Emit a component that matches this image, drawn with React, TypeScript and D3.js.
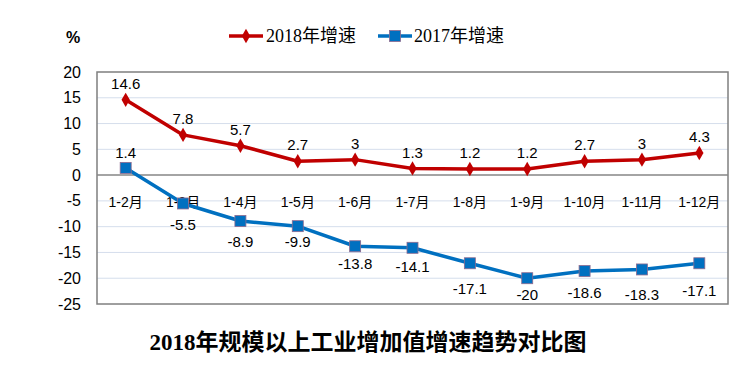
import React from "react";
import * as d3 from "d3";

const categories = ["1-2月", "1-3月", "1-4月", "1-5月", "1-6月", "1-7月", "1-8月", "1-9月", "1-10月", "1-11月", "1-12月"];
const series2018 = [14.6, 7.8, 5.7, 2.7, 3, 1.3, 1.2, 1.2, 2.7, 3, 4.3];
const series2017 = [1.4, -5.5, -8.9, -9.9, -13.8, -14.1, -17.1, -20, -18.6, -18.3, -17.1];
const yTicks = [20, 15, 10, 5, 0, -5, -10, -15, -20, -25];
const label2018 = "2018年增速";
const label2017 = "2017年增速";
const title = "2018年规模以上工业增加值增速趋势对比图";
// label offsets (style), below/above the markers
const labelDy2017 = [-15, 21, 21, 16, 17, 19, 25, 17, 22, 25, 27];

const W = 750, H = 380;
const plot = { left: 97, right: 728, top: 72, bottom: 304 };
const RED = "#C00000";
const BLUE = "#0070C0";
const SANS = "'Liberation Sans', Arial, 'Noto Sans CJK SC', sans-serif";
const SERIF = "'Liberation Serif', 'Noto Sans CJK SC', serif";

export default function App() {
  const x = d3.scaleBand<string>().domain(categories).range([plot.left, plot.right]);
  const y = d3.scaleLinear().domain([-25, 20]).range([plot.bottom, plot.top]);
  const cx = (i: number) => (x(categories[i]) as number) + x.bandwidth() / 2;
  const line = d3.line<number>().x((_, i) => cx(i)).y((d) => y(d));
  const diamond = d3.symbol().type(d3.symbolDiamond).size(60)();
  return (
    <svg width={W} height={H} style={{ position: "absolute", left: 0, top: 0, background: "#fff" }}>
      <rect width={W} height={H} fill="#fff" />
      {/* gridlines */}
      {yTicks.filter((t) => t !== 0 && t !== 20 && t !== -25).map((t) => (
        <line key={t} x1={plot.left} x2={plot.right} y1={y(t)} y2={y(t)} stroke="#D5DEEC" strokeWidth={1} />
      ))}
      {/* plot border */}
      <rect x={plot.left} y={plot.top} width={plot.right - plot.left} height={plot.bottom - plot.top} fill="none" stroke="#7F7F7F" strokeWidth={1.5} />
      {/* zero line */}
      <line x1={plot.left} x2={plot.right} y1={y(0)} y2={y(0)} stroke="#868686" strokeWidth={1.5} />
      {/* y tick labels */}
      {yTicks.map((t) => (
        <text key={t} x={81} y={y(t)} dy="0.35em" textAnchor="end" fontFamily={SANS} fontSize={16} fill="#000">{t}</text>
      ))}
      <text x={73} y={37} dy="0.35em" textAnchor="middle" fontFamily={SANS} fontSize={16} fontWeight="bold">%</text>
      {/* x category labels */}
      {categories.map((c, i) => (
        <text key={c} x={cx(i)} y={202} dy="0.35em" textAnchor="middle" fontFamily={SANS} fontSize={14} fill="#000">{c}</text>
      ))}
      {/* 2017 series */}
      <path d={line(series2017) || ""} fill="none" stroke={BLUE} strokeWidth={3.5} strokeLinejoin="round" />
      {series2017.map((v, i) => (
        <rect key={i} x={cx(i) - 5.5} y={y(v) - 5.5} width={11} height={11} fill={BLUE} stroke="#8E6A8E" strokeWidth={0.8} />
      ))}
      {series2017.map((v, i) => (
        <text key={i} x={cx(i)} y={y(v) + labelDy2017[i]} dy="0.35em" textAnchor="middle" fontFamily={SANS} fontSize={15} fill="#000">{v}</text>
      ))}
      {/* 2018 series */}
      <path d={line(series2018) || ""} fill="none" stroke={RED} strokeWidth={3.5} strokeLinejoin="round" />
      {series2018.map((v, i) => (
        <path key={i} d={diamond || ""} transform={`translate(${cx(i)},${y(v)})`} fill={RED} />
      ))}
      {series2018.map((v, i) => (
        <text key={i} x={cx(i)} y={y(v) - 16} dy="0.35em" textAnchor="middle" fontFamily={SANS} fontSize={15} fill="#000">{v}</text>
      ))}
      {/* legend */}
      <line x1={229} x2={263} y1={36} y2={36} stroke={RED} strokeWidth={3.5} />
      <path d={diamond || ""} transform="translate(246,36)" fill={RED} />
      <text x={266} y={36} dy="0.35em" fontFamily={SERIF} fontSize={18} fill="#000">{label2018}</text>
      <line x1={378} x2={412} y1={36} y2={36} stroke={BLUE} strokeWidth={3.5} />
      <rect x={389.5} y={30.5} width={11} height={11} fill={BLUE} stroke="#8E6A8E" strokeWidth={0.8} />
      <text x={414} y={36} dy="0.35em" fontFamily={SERIF} fontSize={18} fill="#000">{label2017}</text>
      {/* title */}
      <text x={368} y={342} dy="0.35em" textAnchor="middle" fontFamily={SERIF} fontSize={23} fontWeight="bold" fill="#000">{title}</text>
    </svg>
  );
}
